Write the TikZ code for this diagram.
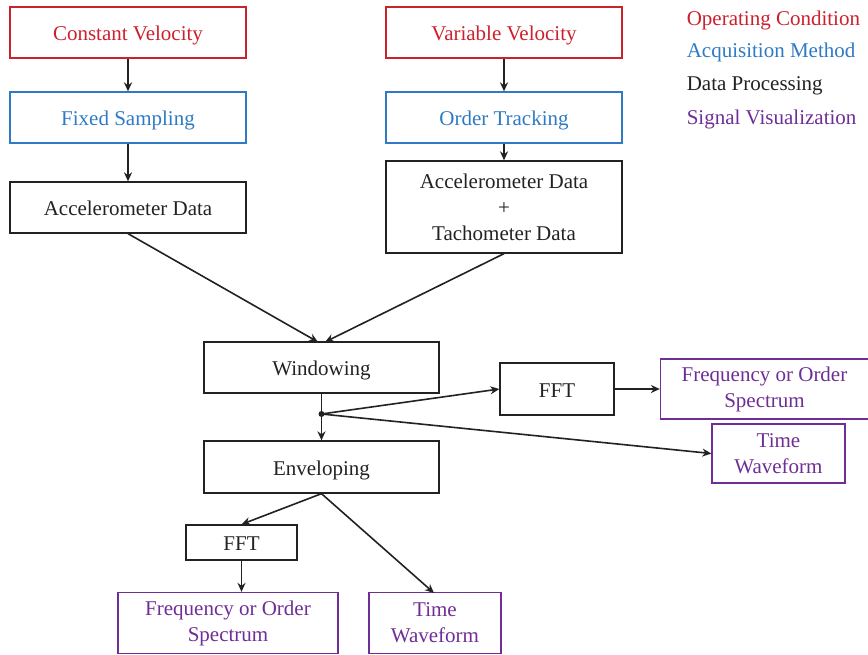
\documentclass[tikz,border=0pt]{standalone}
\usepackage{fontspec}
\setmainfont{Liberation Serif}
\usetikzlibrary{arrows.meta,positioning}

\definecolor{condred}{RGB}{204,32,45}
\definecolor{acqblue}{RGB}{46,122,196}
\definecolor{procgray}{RGB}{34,34,34}
\definecolor{vispurple}{RGB}{110,46,150}

\begin{document}
\begin{tikzpicture}[x=0.5pt,y=-0.5pt,-{Stealth[length=4.5pt,width=4pt]},line width=0.8pt,draw=procgray,
    box/.style={-,draw,rectangle,inner sep=0pt,line width=0.65pt,align=center,font=\fontsize{10.5}{13}\selectfont},
    one line/.style={text height=9pt,text depth=1pt},
    cond node/.style={box,one line,draw=condred,text=condred,minimum width=118pt,minimum height=25.5pt},
    acq node/.style={box,one line,draw=acqblue,text=acqblue,minimum width=118pt,minimum height=25.5pt},
    proc node/.style={box,draw=procgray,text=procgray},
    vis node/.style={box,draw=vispurple,text=vispurple},
    key/.style={anchor=west,inner sep=0pt,font=\fontsize{10.5}{13}\selectfont}]
    \useasboundingbox (0,0) rectangle (868,654);

    % top two columns
    \node[cond node] (cv) at (128,32.5) {Constant Velocity};
    \node[cond node] (vv) at (504,32.5) {Variable Velocity};
    \node[acq node] (fs) at (128,117.5) {Fixed Sampling};
    \node[acq node] (ot) at (504,117.5) {Order Tracking};
    \node[proc node,one line,minimum width=118pt,minimum height=25.5pt] (ad) at (128,207.5) {Accelerometer Data};
    \node[proc node,minimum width=118pt,minimum height=46pt] (at) at (504,207) {Accelerometer Data\\+\\Tachometer Data};

    % processing
    \node[proc node,one line,minimum width=117.5pt,minimum height=25.5pt] (win) at (321.5,367.5) {Windowing};
    \node[proc node,one line,minimum width=117.5pt,minimum height=26pt] (env) at (321.5,467) {Enveloping};
    \node[proc node,one line,minimum width=57pt,minimum height=26pt] (fft1) at (557,389) {FFT};
    \node[proc node,one line,minimum width=55.5pt,minimum height=17.5pt] (fft2) at (241.5,542.5) {FFT};
    \coordinate (split) at (321.5,414);
    \fill[procgray] (split) circle (3);

    % visualization
    \node[vis node,minimum width=104pt,minimum height=30pt] (fos1) at (764.5,389) {Frequency or Order\\Spectrum};
    \node[vis node,minimum width=66.5pt,minimum height=29.5pt] (tw1) at (778.5,453.5) {Time\\Waveform};
    \node[vis node,minimum width=110pt,minimum height=30.5pt] (fos2) at (228,623) {Frequency or Order\\Spectrum};
    \node[vis node,minimum width=66pt,minimum height=30.5pt] (tw2) at (435,623) {Time\\Waveform};

    % legend
    \node[key,text=condred] (k1) at (686,20) {Operating Condition};
    \node[key,text=acqblue] (k2) at (686,52) {Acquisition Method};
    \node[key,text=procgray] (k3) at (686,86) {Data Processing};
    \node[key,text=vispurple] (k4) at (686,119) {Signal Visualization};

    \path
        (cv) edge (fs)
        (fs) edge (ad)
        (vv) edge (ot)
        (ot) edge (at)
        (ad.south) edge (318,342)
        (at.south) edge (325,342)
        (win.south) edge[-] (split)
        (split) edge (env.north)
        (split) edge (fft1.west)
        (split) edge (tw1.west)
        (fft1) edge (fos1)
        (env.south) edge (fft2.north)
        (env.south) edge (434,593)
        (fft2.south) edge (fft2.south |- fos2.north)
        ;
\end{tikzpicture}
\end{document}
